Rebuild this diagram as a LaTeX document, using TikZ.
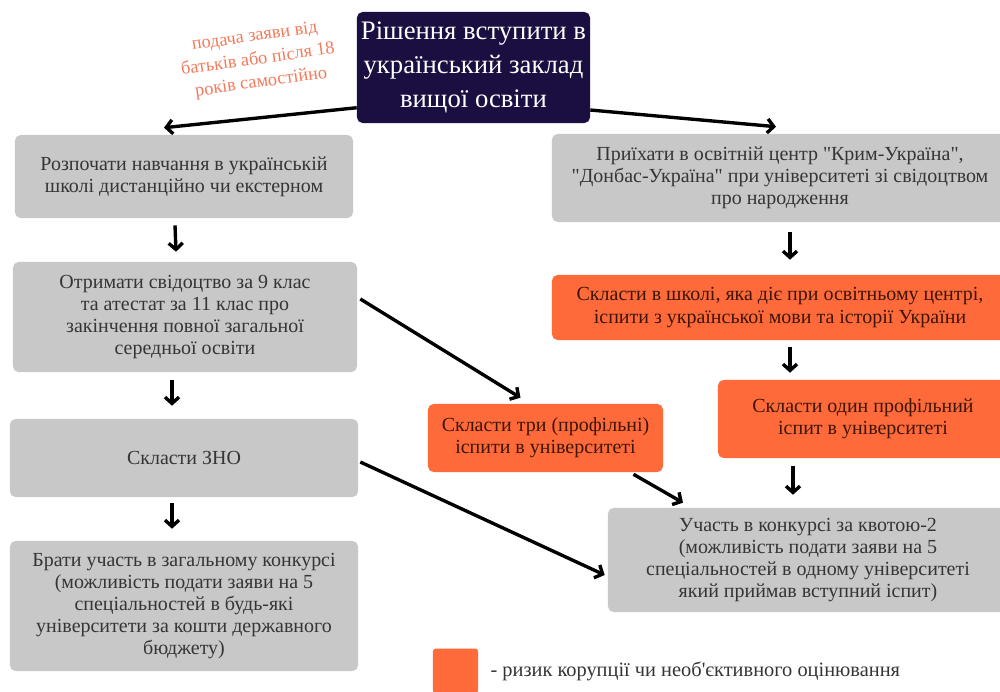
\documentclass[tikz,border=0pt]{standalone}
\usepackage{fontspec}
\setmainfont{Liberation Serif}
\usetikzlibrary{arrows.meta, positioning}
\definecolor{navy}{HTML}{1B0E40}
\definecolor{boxgray}{HTML}{C8C8C8}
\definecolor{riskorange}{HTML}{FE6A3A}
\definecolor{notecol}{HTML}{F27A5B}
\definecolor{graytext}{HTML}{353535}
\definecolor{risktext}{HTML}{3E1508}

\begin{document}
\begin{tikzpicture}[x=0.025cm, y=-0.025cm,
  graybox/.style={fill=boxgray, rounded corners=4pt, align=center, inner sep=0pt,
    text=graytext, font=\fontsize{14.2}{15.8}\selectfont},
  riskbox/.style={graybox, fill=riskorange, text=risktext},
  arr/.style={line width=2.4pt, -{Straight Barb[length=4.5pt,width=10pt,line width=2.4pt]}}]
\useasboundingbox (0,0) rectangle (1000,691);

% top decision
\node[fill=navy, rounded corners=4pt, text=white, align=center,
  minimum width=5.825cm, minimum height=2.775cm, inner sep=0pt,
  font=\fontsize{19}{24}\selectfont] (title) at (473.5,67.5)
  {Рішення вступити в\\український заклад\\вищої освіти};
\node[text=notecol, align=center, rotate=8, font=\fontsize{13}{16.5}\selectfont] (note) at (258,60)
  {подача заяви від\\батьків або після 18\\років самостійно};

% left branch
\node[graybox, minimum width=8.45cm, minimum height=2.075cm] (start) at (184,176.5)
  {Розпочати навчання в українській\\школі дистанційно чи екстерном};
\node[graybox, minimum width=8.6cm, minimum height=2.75cm] (cert) at (185,317)
  {Отримати свідоцтво за 9 клас\\та атестат за 11 клас про\\закінчення повної загальної\\середньої освіти};
\node[graybox, minimum width=8.7cm, minimum height=1.95cm] (zno) at (184,458)
  {Скласти ЗНО};
\node[graybox, minimum width=8.7cm, minimum height=3.25cm] (general) at (184,606)
  {Брати участь в загальному конкурсі\\(можливість подати заяви на 5\\спеціальностей в будь-які\\університети за кошти державного\\бюджету)};

% right branch
\node[graybox, minimum width=11.4cm, minimum height=2.2cm] (centre) at (780,178)
  {Приїхати в освітній центр \textquotedbl Крим-Україна\textquotedbl,\\\textquotedbl Донбас-Україна\textquotedbl{} при університеті зі свідоцтвом\\про народження};
\node[riskbox, minimum width=11.4cm, minimum height=1.625cm] (schoolexam) at (780,307.5)
  {Скласти в школі, яка діє при освітньому центрі,\\іспити з української мови та історії України};
\node[riskbox, minimum width=7.25cm, minimum height=1.95cm] (oneexam) at (863,419)
  {Скласти один профільний\\іспит в університеті};
\node[graybox, minimum width=10cm, minimum height=2.6cm] (quota) at (808,560)
  {Участь в конкурсі за квотою-2\\(можливість подати заяви на 5\\спеціальностей в одному університеті\\який приймав вступний іспит)};

% middle
\node[riskbox, minimum width=5.875cm, minimum height=1.7cm] (threeexam) at (545.5,438)
  {Скласти три (профільні)\\іспити в університеті};

% legend
\node[fill=riskorange, rounded corners=2pt, minimum size=1.125cm, inner sep=0pt] (legendsq) at (455.5,671) {};
\node[right=0.3cm of legendsq, text=graytext, font=\fontsize{14.5}{15}\selectfont, inner sep=0pt] (legendtxt)
  {- ризик корупції чи необ\textquotesingle єктивного оцінювання};

% arrows
\draw[arr] (title.199) -- ([shift={(-20,-7)}]start.north);
\draw[arr] (title.340) -- ([shift={(-4,-7)}]centre.north);
\draw[arr] ([shift={(-9,7)}]start.south) -- ([shift={(-9,-10)}]cert.north);
\draw[arr] ([shift={(-13,8)}]cert.south) -- ([shift={(-12,-13)}]zno.north);
\draw[arr] ([shift={(-12,6)}]zno.south) -- ([shift={(-12,-12)}]general.north);
\draw[arr] ([shift={(10,10)}]centre.south) -- ([shift={(10,-15)}]schoolexam.north);
\draw[arr] ([shift={(10,7)}]schoolexam.south) -- ([shift={(-73,-7)}]oneexam.north);
\draw[arr] ([shift={(-70,8)}]oneexam.south) -- ([shift={(-15,-13)}]quota.north);
\draw[arr] ([shift={(3,-18)}]cert.east) -- ([shift={(-25,-6)}]threeexam.north);
\draw[arr] ([shift={(88,2)}]threeexam.south) -- ([shift={(-125,-5)}]quota.north);
\draw[arr] ([shift={(2,4)}]zno.east) -- ([shift={(-3,15)}]quota.west);
\end{tikzpicture}
\end{document}
